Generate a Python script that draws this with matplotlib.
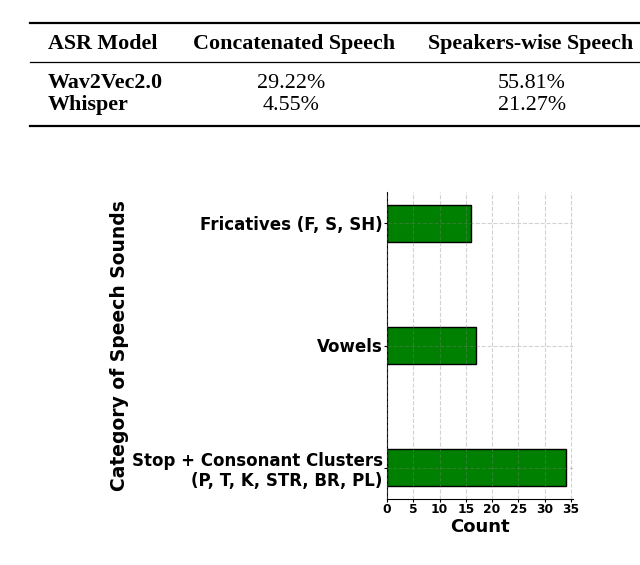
import matplotlib
matplotlib.use("Agg")
import matplotlib.pyplot as plt
from matplotlib.lines import Line2D

# ---- data ----
table_header = ["ASR Model", "Concatenated Speech", "Speakers-wise Speech"]
asr_models = ["Wav2Vec2.0", "Whisper"]
concatenated = ["29.22%", "4.55%"]
speakers_wise = ["55.81%", "21.27%"]

categories = ["Fricatives (F, S, SH)", "Vowels",
              "Stop + Consonant Clusters\n(P, T, K, STR, BR, PL)"]
counts = [16, 17, 34]
xticks = [0, 5, 10, 15, 20, 25, 30, 35]

W, H = 640, 565
fig = plt.figure(figsize=(W / 100, H / 100), dpi=100)

def fx(px):
    return px / W

def fy(py):
    return 1 - py / H

# ---- table ----
serif = "Liberation Serif"
fig.add_artist(Line2D([fx(30), fx(640)], [fy(23), fy(23)], color="black", lw=1.6))
fig.add_artist(Line2D([fx(30), fx(640)], [fy(62), fy(62)], color="black", lw=0.9))
fig.add_artist(Line2D([fx(30), fx(640)], [fy(126), fy(126)], color="black", lw=1.6))

fs_tab = 15.8
fig.text(fx(48), fy(44), table_header[0], family=serif, weight="bold",
         fontsize=fs_tab, ha="left", va="center")
fig.text(fx(294), fy(44), table_header[1], family=serif, weight="bold",
         fontsize=fs_tab, ha="center", va="center")
fig.text(fx(531), fy(44), table_header[2], family=serif, weight="bold",
         fontsize=fs_tab, ha="center", va="center")
row_y = [83, 105]
for i, m in enumerate(asr_models):
    fig.text(fx(48), fy(row_y[i]), m, family=serif, weight="bold",
             fontsize=fs_tab, ha="left", va="center")
    fig.text(fx(291), fy(row_y[i]), concatenated[i], family=serif,
             fontsize=fs_tab, ha="center", va="center")
    fig.text(fx(532), fy(row_y[i]), speakers_wise[i], family=serif,
             fontsize=fs_tab, ha="center", va="center")

# ---- bar chart ----
ax = fig.add_axes([fx(387), fy(499.3), fx(573) - fx(387), fy(191.7) - fy(499.3)])
pos = list(range(len(categories)))
ax.barh(pos, counts, height=0.3, color="#008000", edgecolor="black", linewidth=1.0)
ax.set_ylim(-0.26, 2.26)
ax.invert_yaxis()
ax.set_xlim(0, 35.4)
ax.set_xticks(xticks)
ax.set_yticks(pos)
ax.set_yticklabels(categories, fontsize=12, fontweight="bold", family="DejaVu Sans")
for lab in ax.get_yticklabels():
    lab.set_multialignment("right")
ax.tick_params(axis="x", labelsize=8.8, length=2, pad=1)
ax.tick_params(axis="y", length=2, pad=1)
for lab in ax.get_xticklabels():
    lab.set_fontweight("bold")
ax.set_xlabel("Count", fontsize=13, fontweight="bold", labelpad=1)
ax.set_ylabel("Category of Speech Sounds", fontsize=13.5, fontweight="bold", labelpad=2)
ax.spines["top"].set_visible(False)
ax.spines["right"].set_visible(False)
ax.set_axisbelow(False)
ax.grid(True, linestyle="--", color="gray", alpha=0.35, linewidth=0.8)

fig.savefig("out.png", dpi=100)
